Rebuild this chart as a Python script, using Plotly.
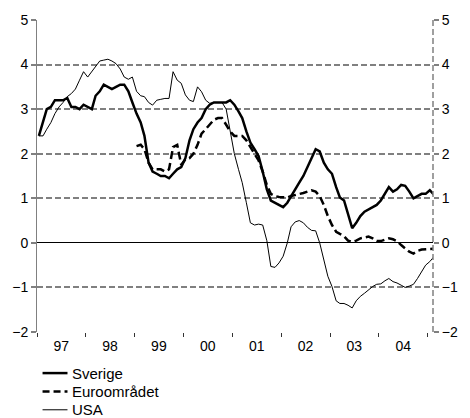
import plotly.graph_objects as go

# monthly values, Jan 1997 - Feb 2005
sverige = [
    2.4, 2.7, 3.0, 3.05, 3.2, 3.2, 3.2, 3.25, 3.05, 3.05, 3.0, 3.1,
    3.05, 3.0, 3.3, 3.4, 3.55, 3.5, 3.45, 3.5, 3.55, 3.55, 3.4, 3.15,
    2.9, 2.7, 2.4, 1.8, 1.6, 1.55, 1.5, 1.5, 1.45, 1.55, 1.65, 1.7,
    1.9, 2.3, 2.55, 2.7, 2.8, 3.0, 3.1, 3.15, 3.15, 3.15, 3.15, 3.2,
    3.1, 2.95, 2.8, 2.5, 2.25, 2.1, 1.95, 1.6, 1.2, 0.95, 0.9, 0.85,
    0.8, 0.9, 1.05, 1.2, 1.35, 1.5, 1.7, 1.9, 2.1, 2.05, 1.8, 1.65,
    1.55, 1.25, 1.02, 0.95, 0.65, 0.33, 0.45, 0.6, 0.7, 0.75, 0.8, 0.85,
    0.95, 1.1, 1.25, 1.15, 1.2, 1.3, 1.28, 1.15, 1.0, 1.05, 1.1, 1.1,
    1.18, 1.08,
]

# starts Jan 1999
euro = [
    2.17, 2.2, 2.1, 1.8, 1.65, 1.65, 1.65, 1.6, 1.65, 2.15, 2.2, 1.75,
    1.87, 1.9, 2.0, 2.2, 2.45, 2.55, 2.65, 2.76, 2.8, 2.8, 2.65, 2.5,
    2.4, 2.4, 2.4, 2.3, 2.15, 2.0, 1.85, 1.6, 1.3, 1.1, 1.05, 1.03,
    1.02, 1.02, 1.05, 1.07, 1.1, 1.12, 1.15, 1.18, 1.15, 1.05, 0.85, 0.6,
    0.4, 0.25, 0.2, 0.15, 0.05, 0.02, 0.05, 0.1, 0.12, 0.14, 0.1, 0.04,
    0.04, 0.08, 0.1, 0.08, 0.04, -0.05, -0.12, -0.2, -0.24, -0.18, -0.15, -0.14,
    -0.13, -0.13,
]

usa = [
    2.4, 2.4, 2.55, 2.7, 2.9, 3.05, 3.15, 3.28, 3.35, 3.45, 3.65, 3.84,
    3.72, 3.85, 3.95, 4.08, 4.1, 4.12, 4.08, 4.02, 3.9, 3.72, 3.67, 3.72,
    3.4, 3.3, 3.28, 3.15, 3.09, 3.2, 3.22, 3.24, 3.24, 3.84, 3.65, 3.58,
    3.32, 3.2, 3.17, 3.5, 3.39, 3.2, 3.13, 3.15, 3.15, 3.15, 3.0, 2.5,
    2.0, 1.65, 1.35, 0.9, 0.45, 0.4, 0.42, 0.4, 0.05, -0.53, -0.55, -0.45,
    -0.3, 0.0, 0.36, 0.47, 0.5, 0.45, 0.35, 0.28, 0.27, 0.0, -0.4, -0.75,
    -0.98, -1.3, -1.36, -1.36, -1.4, -1.46, -1.3, -1.2, -1.13, -1.05, -0.98, -0.93,
    -0.92, -0.85, -0.8, -0.87, -0.9, -0.95, -1.0, -0.97, -0.93, -0.8, -0.64, -0.5,
    -0.42, -0.31,
]

years = list(range(1997, 2005))
year_labels = [str(y)[2:] for y in years]
y_ticks = [-2, -1, 0, 1, 2, 3, 4, 5]

dates = [f"{1997 + m // 12}-{m % 12 + 1:02d}-15" for m in range(len(sverige))]
euro_dates = dates[24:24 + len(euro)]

FONT = "Liberation Sans, Arial, sans-serif"
GRID = "#808080"

fig = go.Figure()
fig.add_trace(go.Scatter(x=dates, y=usa, mode="lines", name="USA",
                         line=dict(color="black", width=1)))
fig.add_trace(go.Scatter(x=euro_dates, y=euro, mode="lines", name="Euroområdet",
                         line=dict(color="black", width=2.5, dash="8px,4px")))
fig.add_trace(go.Scatter(x=dates, y=sverige, mode="lines", name="Sverige",
                         line=dict(color="black", width=2.5)))
# carrier for the right-hand axis
fig.add_trace(go.Scatter(x=dates[:1], y=usa[:1], yaxis="y2", mode="lines",
                         line=dict(width=0), hoverinfo="skip", showlegend=False))

fig.update_layout(
    width=470,
    height=418,
    margin=dict(l=37, r=28, t=17, b=86),
    plot_bgcolor="white",
    paper_bgcolor="white",
    showlegend=False,
    font=dict(family=FONT, size=14, color="black"),
    xaxis=dict(
        range=["1997-01-01", "2005-02-08"],
        tickmode="array",
        tickvals=[f"{y}-07-01" for y in years],
        ticktext=year_labels,
        ticks="",
        ticklabelstandoff=4,
        showgrid=False,
        showline=False,
        zeroline=False,
        minor=dict(
            tickmode="array",
            tickvals=[f"{y}-01-01" for y in range(1997, 2006)],
            ticks="outside",
            ticklen=4,
            tickcolor="#333333",
            tickwidth=1,
            showgrid=False,
        ),
    ),
    yaxis=dict(
        range=[-2, 5],
        tickvals=y_ticks,
        ticks="outside",
        ticklen=5,
        tickcolor=GRID,
        tickwidth=1.5,
        showline=True,
        linecolor=GRID,
        linewidth=1,
        showgrid=True,
        gridcolor=GRID,
        gridwidth=1.5,
        griddash="6px,3px",
        zeroline=True,
        zerolinecolor="black",
        zerolinewidth=1,
    ),
    yaxis2=dict(
        range=[-2, 5],
        tickvals=y_ticks,
        overlaying="y",
        side="right",
        ticks="outside",
        ticklen=5,
        tickcolor=GRID,
        tickwidth=1.5,
        showgrid=False,
        zeroline=False,
        showline=False,
    ),
)

# dashed right border
fig.add_shape(type="line", xref="paper", yref="paper", x0=1, x1=1, y0=0, y1=1,
              line=dict(color=GRID, width=1.5, dash="6px,3px"))

# legend drawn below the plot
legend_items = [("Sverige", "solid"), ("Euroområdet", "7px,4px"), ("USA", "thin")]
for i, (label, style) in enumerate(legend_items):
    yp = -0.1317 - i * 0.0588
    fig.add_shape(type="line", xref="paper", yref="paper",
                  x0=0.014, x1=0.077, y0=yp, y1=yp,
                  line=dict(color="black",
                            width=1 if style == "thin" else 2.5,
                            dash="solid" if style in ("solid", "thin") else style))
    fig.add_annotation(xref="paper", yref="paper", x=0.083, y=yp, text=label,
                       showarrow=False, xanchor="left", yanchor="middle",
                       font=dict(family=FONT, size=15, color="black"))

# page has a default body margin; drop it so the figure sits at the top-left
fig.write_html("out.html", config={"displayModeBar": False},
               post_script="document.body.style.margin='0';")
